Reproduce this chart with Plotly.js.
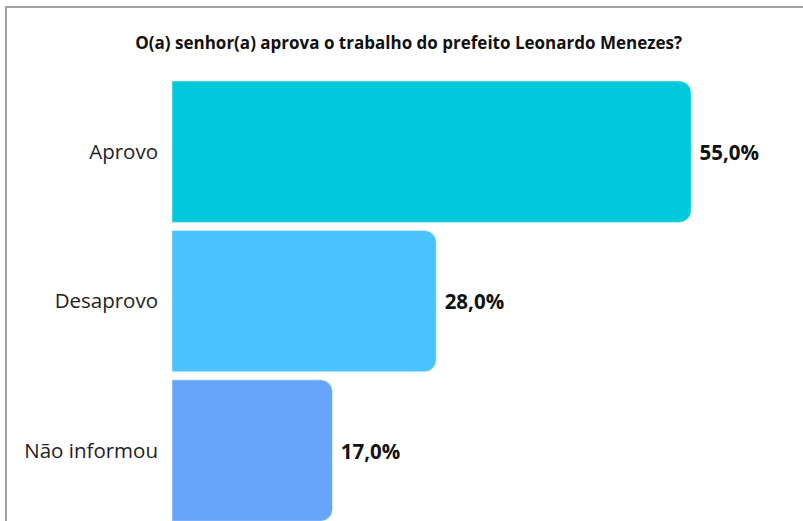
<!DOCTYPE html>
<html>
<head>
<meta charset="utf-8">
<script src="https://cdn.plot.ly/plotly-3.0.1.min.js"></script>
<style>
  html, body { margin: 0; padding: 0; background: #fff; }
  #wrap { position: relative; width: 803px; height: 521px; overflow: hidden; }
  #chart { position: absolute; left: 0; top: 0; width: 803px; height: 521px; }
  #frame { position: absolute; left: 5px; top: 6px; right: -10px; bottom: -10px;
           border-top: 2px solid #a3a3a3; border-left: 2px solid #a3a3a3; pointer-events: none; }
</style>
</head>
<body>
<div id="wrap">
  <div id="chart"></div>
  <div id="frame"></div>
</div>
<script>
const categories = ['Aprovo', 'Desaprovo', 'Não informou'];
const values = [55.0, 28.0, 17.0];
const colors = ['#01C9DC', '#4AC3FF', '#66A6FA'];
const titleText = 'O(a) senhor(a) aprova o trabalho do prefeito Leonardo Menezes?';

const labels = values.map(v => '\u00a0' + v.toFixed(1).replace('.', ',') + '%');

const trace = {
  type: 'bar',
  orientation: 'h',
  y: categories,
  x: values,
  text: labels,
  textposition: 'outside',
  cliponaxis: false,
  textfont: { family: 'Open Sans', size: 20.5, color: '#111', weight: 'bold' },
  marker: { color: colors, cornerradius: 12, line: { width: 1, color: 'rgba(255,255,255,0.45)' } },
  hoverinfo: 'none'
};

const layout = {
  width: 803,
  height: 521,
  margin: { l: 172, r: 8, t: 77, b: 0 },
  paper_bgcolor: '#fff',
  plot_bgcolor: '#fff',
  bargap: 0.054,
  showlegend: false,
  font: { family: 'Open Sans', color: '#222' },
  title: {
    text: '<b>' + titleText + '</b>',
    font: { family: 'Open Sans', size: 17, color: '#111' },
    x: 0.509, xref: 'container', xanchor: 'center',
    y: 1 - 43 / 521, yref: 'container', yanchor: 'middle'
  },
  xaxis: {
    range: [0, 66],
    visible: false,
    showgrid: false,
    zeroline: false,
    fixedrange: true
  },
  yaxis: {
    type: 'category',
    range: [2.4716, -0.5],
    showgrid: false,
    zeroline: false,
    showline: false,
    ticks: '',
    ticklabelstandoff: 13,
    tickfont: { family: 'Open Sans', size: 20.5, color: '#222' },
    fixedrange: true
  }
};

Plotly.newPlot('chart', [trace], layout, { displayModeBar: false, staticPlot: true });
</script>
</body>
</html>
